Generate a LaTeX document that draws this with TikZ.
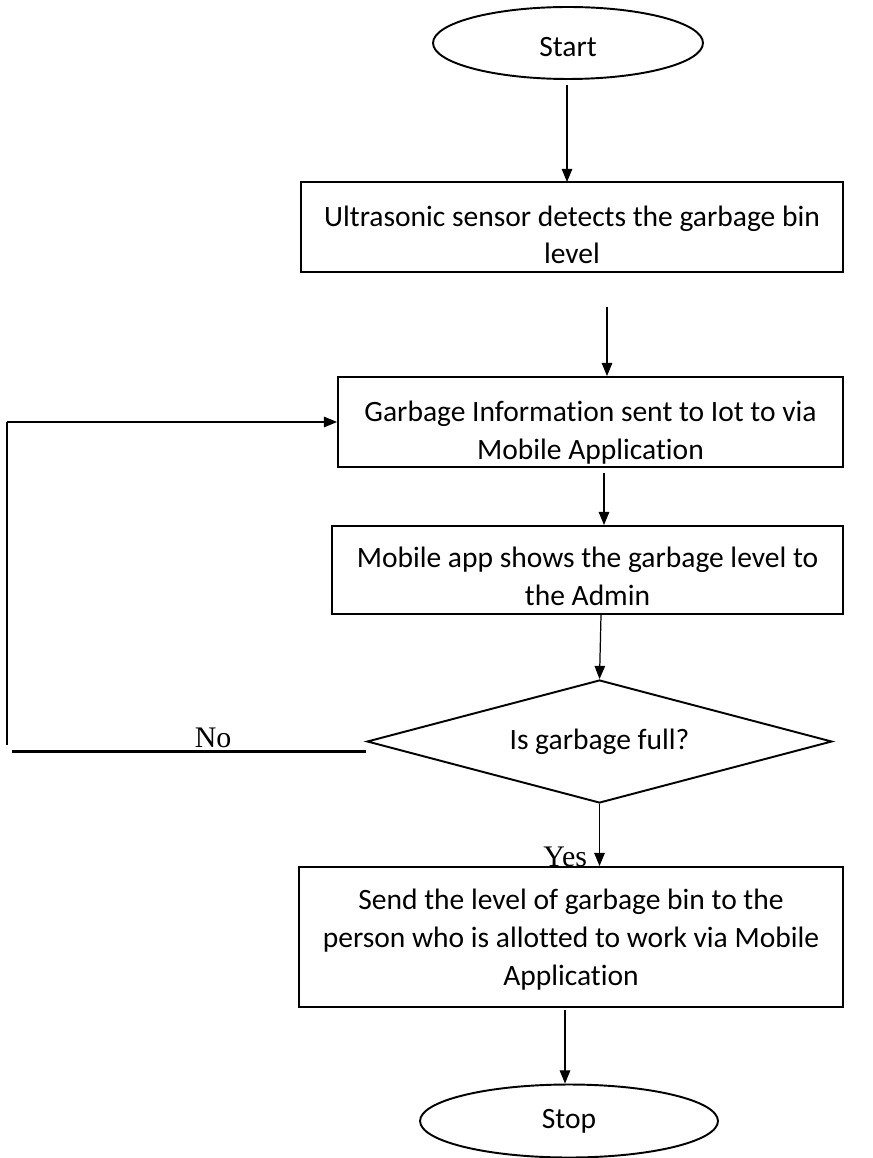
\documentclass[tikz,border=0pt]{standalone}
\usepackage{fontspec}
\setmainfont{Carlito}[Ligatures=NoCommon]
\newfontfamily\lblfont{Liberation Serif}
\usetikzlibrary{shapes.geometric,arrows.meta}
\newcommand{\boxfont}{\fontsize{16.8}{21.5}\selectfont}
% extra room above the first line, pushes the text down in its box
\newcommand{\topgap}[1]{\rule{0pt}{\dimexpr\fontcharht\font`l+#1\relax}}
\begin{document}
\begin{tikzpicture}[x=0.02cm,y=-0.02cm,
    box/.style={draw,line width=1.1pt,inner sep=0pt,align=center,font=\boxfont},
    term/.style={ellipse,draw,line width=1.1pt,inner sep=0pt,font=\boxfont},
    arr/.style={-{Triangle[width=6pt,length=7.5pt]},line width=0.7pt},
    lbl/.style={font=\lblfont\fontsize{17}{20}\selectfont,inner sep=0pt}]
    \useasboundingbox (0,0) rectangle (872,1158);

    \node[term,minimum width=5.4cm,minimum height=1.44cm] (start) at (568,43) {\topgap{4pt}Start};
    \node[box,minimum width=10.84cm,minimum height=1.8cm] (sense) at (572,227)
        {\topgap{9pt}Ultrasonic sensor detects the garbage bin\\level};
    \node[box,minimum width=10.1cm,minimum height=1.8cm] (info) at (590.5,422)
        {\topgap{12pt}Garbage Information sent to Iot to via\\Mobile Application};
    \node[box,minimum width=10.22cm,minimum height=1.76cm] (show) at (587.5,570)
        {\topgap{7pt}Mobile app shows the garbage level to\\the Admin};
    \node[diamond,draw,line width=1.1pt,inner sep=0pt,font=\boxfont,aspect=3.8,
        minimum width=9.3cm,minimum height=2.46cm] (full) at (599.5,741.5) {Is garbage full?};
    \node[box,minimum width=10.88cm,minimum height=2.8cm] (notify) at (571,937)
        {\topgap{3pt}Send the level of garbage bin to the\\person who is allotted to work via Mobile\\Application};
    \node[term,minimum width=5.96cm,minimum height=1.46cm] (stop) at (569,1121) {Stop};

    \coordinate (gap1) at (607,307);
    \coordinate (gap2) at (604,473);
    \coordinate (gap4) at (565,1010);
    \coordinate (loopb) at (7,745);
    \coordinate (nob) at (12,751);

    \draw[arr] (567,85) -- (567,182);
    \draw[arr] (gap1)--(gap1 |- info.north);
    \draw[arr] (gap2)--(gap2 |- show.north);
    \draw[arr] ([xshift=0.27cm]show.south)--(full.north);
    \draw[arr] (full.south)--node[at end,lbl,anchor=base east,xshift=-0.24cm]{Yes}(full.south |- notify.north);
    \draw[arr] (gap4)--(gap4 |- stop.north);

    \draw[line width=0.7pt] (loopb)--(loopb |- info.west);
    \draw[arr] (loopb |- info.west)--(info.west);
    \draw[line width=1.7pt] (nob)--(nob -| full.west);
    \node[lbl,anchor=base] (no) at (213,747) {No};
\end{tikzpicture}
\end{document}
